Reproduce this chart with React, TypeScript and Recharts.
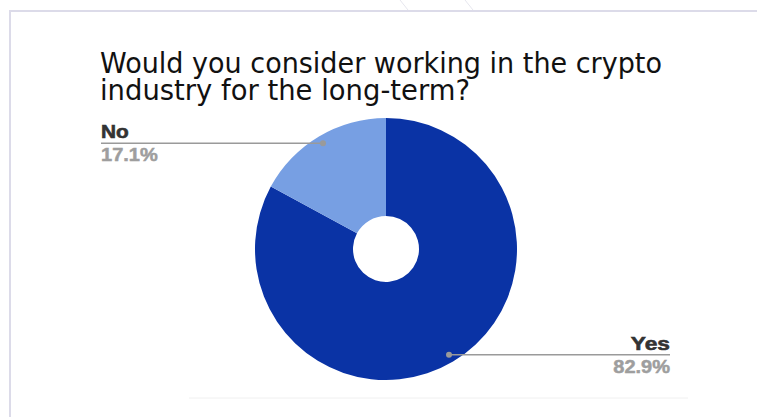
import React from "react";
import { PieChart, Pie, Cell } from "recharts";

const categories = ["Yes", "No"];
const values = [82.9, 17.1];
const valueLabels = ["82.9%", "17.1%"];
const colors = ["#0a33a5", "#779fe3"];
const titleLines = ["Would you consider working in the crypto", "industry for the long-term?"];

const data = categories.map((name, i) => ({ name, value: values[i], label: valueLabels[i] }));

const RAD = Math.PI / 180;

const approxWidth = (s: string, size: number) => {
  // rough bold-sans width for forcing a stretched look
  let w = 0;
  for (const ch of s) {
    if (ch === ".") w += 0.3;
    else if (ch === "%") w += 0.95;
    else if (/[0-9]/.test(ch)) w += 0.62;
    else if (ch === "N") w += 0.8;
    else if (ch === "Y") w += 0.74;
    else w += 0.66;
  }
  return w * size;
};

const renderLabel = (props: any) => {
  const { cx, cy, midAngle, outerRadius, name, payload } = props;
  const r = outerRadius * 0.94;
  const x0 = cx + r * Math.cos(-midAngle * RAD);
  const y0 = cy + r * Math.sin(-midAngle * RAD);
  const left = Math.cos(-midAngle * RAD) < 0;
  const x1 = left ? 101 : 670;
  const anchor = left ? "start" : "end";
  return (
    <g key={name}>
      <line x1={x0} y1={y0} x2={x1} y2={y0} stroke="#9a9a9a" strokeWidth={1.5} />
      <circle cx={x0} cy={y0} r={3} fill="#9a9a9a" />
      <text
        x={x1}
        y={y0 - 5}
        textAnchor={anchor}
        fontFamily="Liberation Sans, Arial, sans-serif"
        fontWeight="bold"
        fontSize={19}
        fill="#333333"
        stroke="#333333"
        strokeWidth={0.6}
        textLength={approxWidth(name, 19)}
        lengthAdjust="spacingAndGlyphs"
      >
        {name}
      </text>
      <text
        x={x1}
        y={y0 + 18}
        textAnchor={anchor}
        fontFamily="Liberation Sans, Arial, sans-serif"
        fontWeight="bold"
        fontSize={19}
        fill="#9e9e9e"
        stroke="#9e9e9e"
        strokeWidth={0.5}
        textLength={approxWidth(payload.label, 19) * 0.96}
        lengthAdjust="spacingAndGlyphs"
      >
        {payload.label}
      </text>
    </g>
  );
};

export default function App() {
  return (
    <div style={{ position: "absolute", left: 0, top: 0, width: 757, height: 417, background: "#ffffff", overflow: "hidden" }}>
      <svg width={757} height={417} style={{ position: "absolute", left: 0, top: 0 }}>
        <line x1={400} y1={0} x2={408} y2={10} stroke="#e6e6ee" strokeWidth={1} />
        <line x1={465} y1={0} x2={473} y2={10} stroke="#e6e6ee" strokeWidth={1} />
        <rect x={10} y={11} width={800} height={500} fill="none" stroke="#dcdbe9" strokeWidth={2} />
        <line x1={189} y1={398} x2={688} y2={398} stroke="#f0f0f0" strokeWidth={1} />
        <text x={100} y={73} fontFamily="DejaVu Sans, Verdana, sans-serif" fontSize={29} fill="#111111" textLength={562} lengthAdjust="spacingAndGlyphs">
          {titleLines[0]}
        </text>
        <text x={100} y={100} fontFamily="DejaVu Sans, Verdana, sans-serif" fontSize={29} fill="#111111" textLength={370} lengthAdjust="spacingAndGlyphs">
          {titleLines[1]}
        </text>
      </svg>
      <div style={{ position: "absolute", left: 0, top: 0 }}>
        <PieChart width={757} height={417} margin={{ top: 0, right: 0, bottom: 0, left: 0 }}>
          <Pie
            data={data}
            dataKey="value"
            nameKey="name"
            cx={386}
            cy={249}
            innerRadius={33}
            outerRadius={131}
            startAngle={90}
            endAngle={-270}
            stroke="none"
            isAnimationActive={false}
            label={renderLabel}
            labelLine={false}
          >
            {data.map((d, i) => (
              <Cell key={d.name} fill={colors[i]} />
            ))}
          </Pie>
        </PieChart>
      </div>
    </div>
  );
}
